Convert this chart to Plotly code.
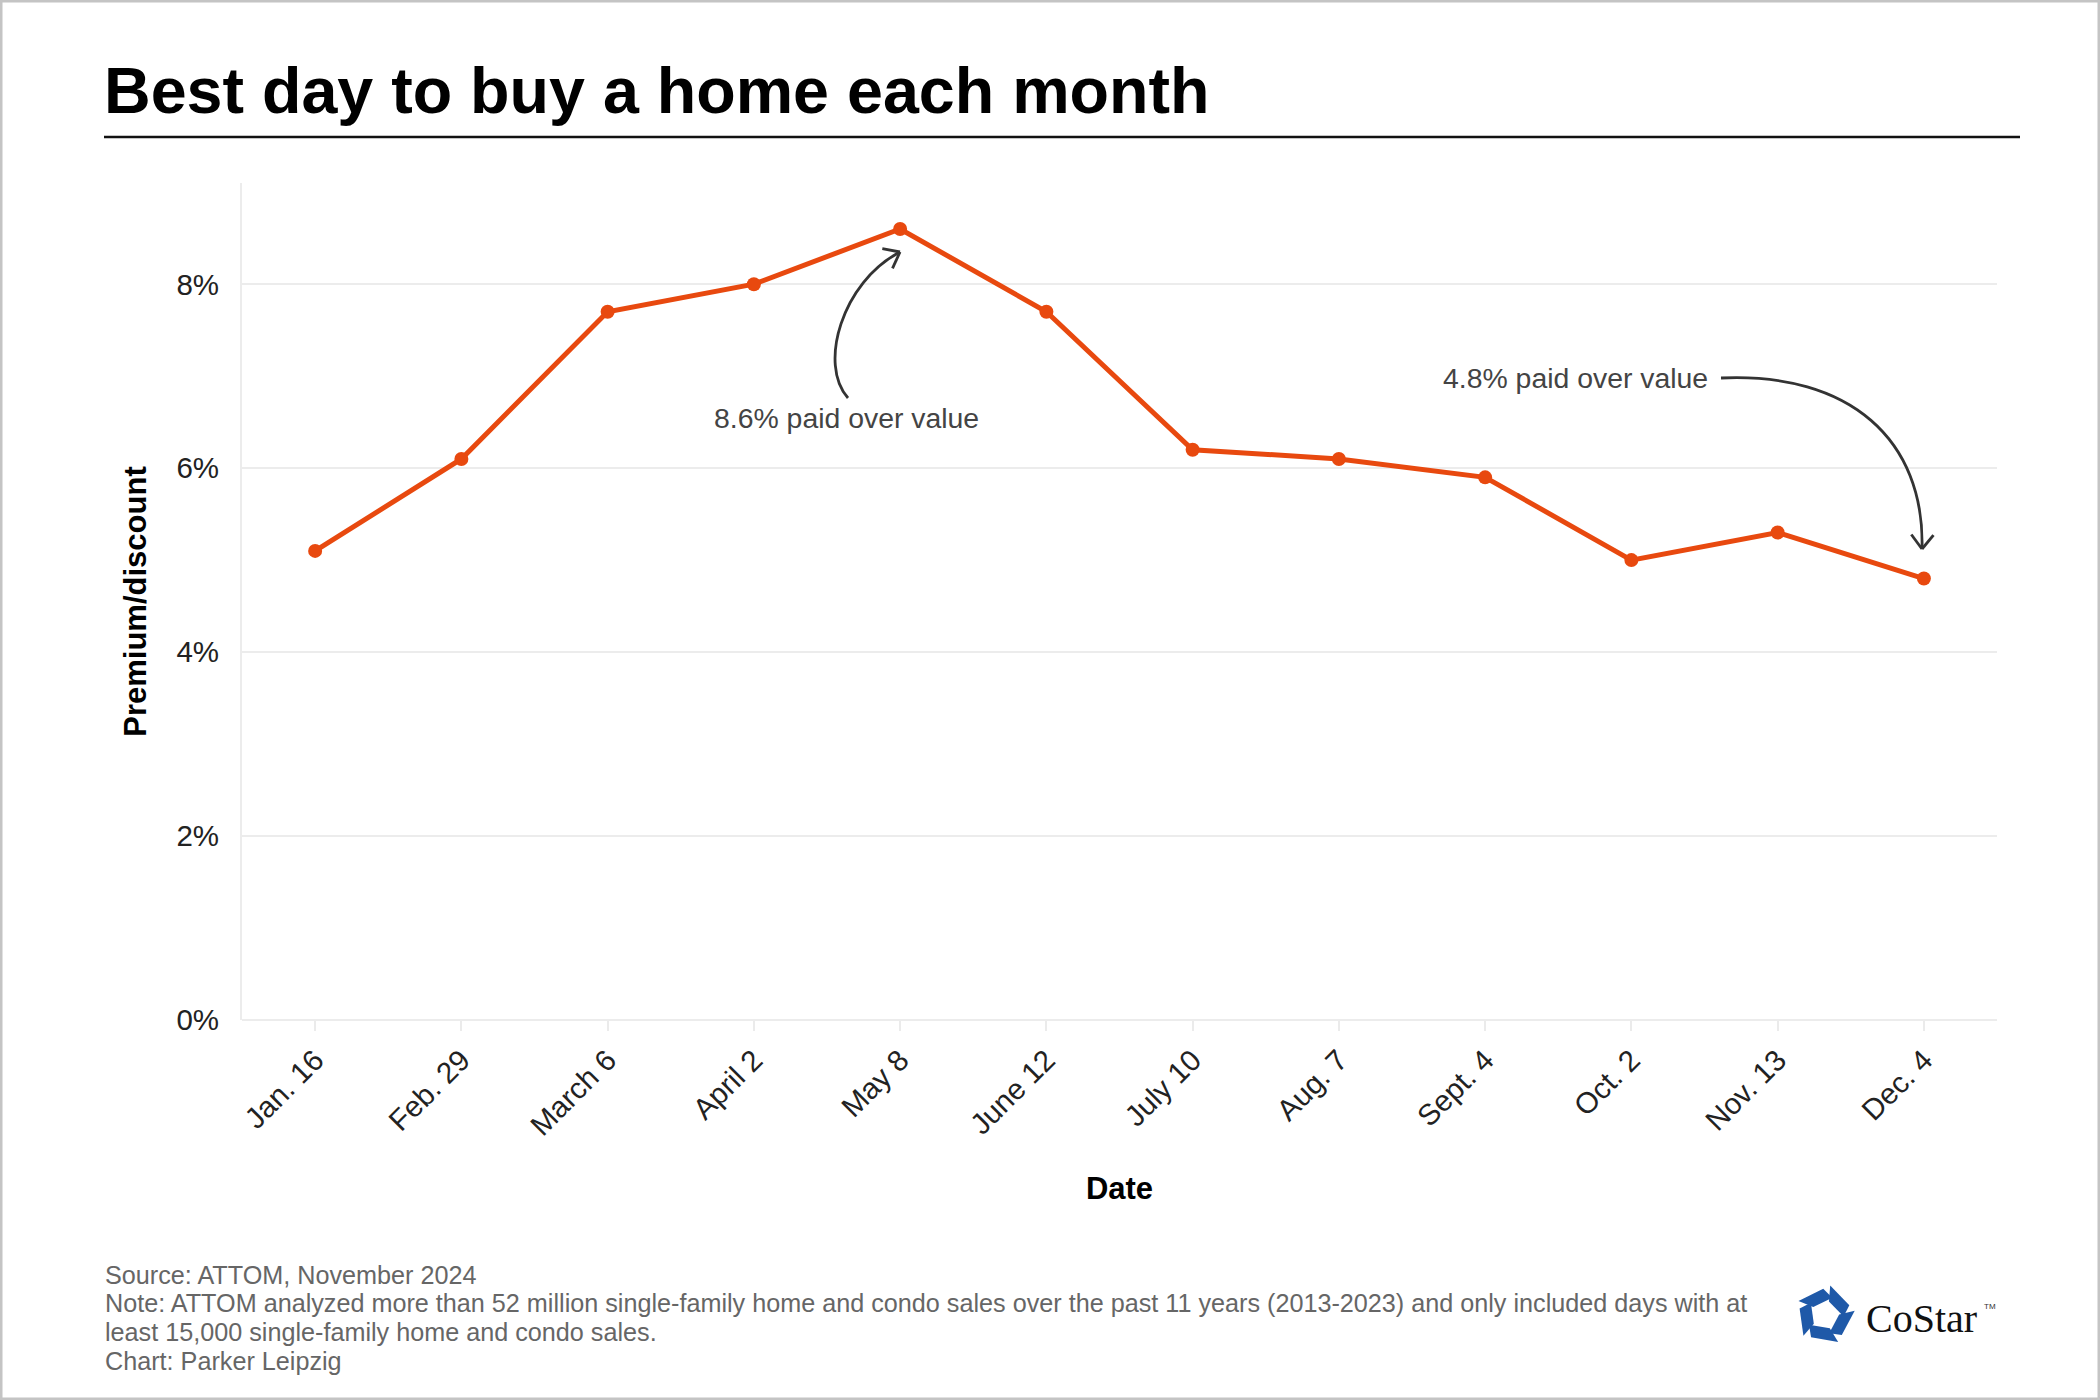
import math
import plotly.graph_objects as go

# data
dates = ["Jan. 16", "Feb. 29", "March 6", "April 2", "May 8", "June 12",
         "July 10", "Aug. 7", "Sept. 4", "Oct. 2", "Nov. 13", "Dec. 4"]
premium = [5.1, 6.1, 7.7, 8.0, 8.6, 7.7, 6.2, 6.1, 5.9, 5.0, 5.3, 4.8]
y_ticks = [0, 2, 4, 6, 8]
y_tick_labels = ["0%", "2%", "4%", "6%", "8%"]

title_text = "Best day to buy a home each month"
footer_lines = [
    "Source: ATTOM, November 2024",
    "Note: ATTOM analyzed more than 52 million single-family home and condo sales over the past 11 years (2013-2023) and only included days with at",
    "least 15,000 single-family home and condo sales.",
    "Chart: Parker Leipzig",
]
peak_note = "8.6% paid over value"
dec_note = "4.8% paid over value"

FONT = "Liberation Sans, Arial, sans-serif"
ORANGE = "#e8490f"
W, H = 2100, 1400
ML, MR, MT, MB = 242, 103, 183, 380
PW, PH = W - ML - MR, H - MT - MB


# pixel -> paper helpers (paper is the plot area)
def px(x):
    return (x - ML) / PW


def py(y):
    return (H - MB - y) / PH


def curved_arrow(p0, p1, p2, p3, color="#333333", width=2.8, head=18):
    shapes = []
    path = "M {},{} C {},{} {},{} {},{}".format(
        px(p0[0]), py(p0[1]), px(p1[0]), py(p1[1]),
        px(p2[0]), py(p2[1]), px(p3[0]), py(p3[1]))
    shapes.append(dict(type="path", path=path, xref="paper", yref="paper",
                       line=dict(color=color, width=width)))
    ang = math.atan2(p3[1] - p2[1], p3[0] - p2[0])
    for s in (-1, 1):
        a = ang + math.pi + s * math.radians(38)
        wx, wy = p3[0] + head * math.cos(a), p3[1] + head * math.sin(a)
        shapes.append(dict(type="line", xref="paper", yref="paper",
                           x0=px(p3[0]), y0=py(p3[1]), x1=px(wx), y1=py(wy),
                           line=dict(color=color, width=width)))
    return shapes


fig = go.Figure()
fig.add_trace(go.Scatter(
    x=dates, y=premium, mode="lines+markers",
    line=dict(color=ORANGE, width=5),
    marker=dict(color=ORANGE, size=14),
    hoverinfo="skip", showlegend=False))

shapes = []
# outer frame
shapes.append(dict(type="rect", xref="paper", yref="paper",
                   x0=px(1), y0=py(1), x1=px(W - 1), y1=py(H - 1),
                   line=dict(color="#c4c4c4", width=3)))
# title rule
shapes.append(dict(type="line", xref="paper", yref="paper",
                   x0=px(104), y0=py(137), x1=px(2020), y1=py(137),
                   line=dict(color="#111111", width=2.5)))
shapes += curved_arrow((848, 398), (818, 365), (842, 282), (900, 252))
shapes += curved_arrow((1721, 378), (1850, 372), (1925, 440), (1922, 549))

# logo mark: five blue bars around a pentagon
cx, cy, R, t = 1825, 1315, 30, 12
verts = [(cx + R * math.cos(math.radians(-90 + 72 * k + 10)),
          cy + R * math.sin(math.radians(-90 + 72 * k + 10))) for k in range(5)]
for k in range(5):
    a = verts[k]
    b = verts[(k + 1) % 5]
    m = (a[0] + 0.78 * (b[0] - a[0]), a[1] + 0.78 * (b[1] - a[1]))
    ex, ey = b[0] - a[0], b[1] - a[1]
    n = math.hypot(ex, ey)
    nx, ny = -ey / n, ex / n
    if (cx - a[0]) * nx + (cy - a[1]) * ny < 0:
        nx, ny = -nx, -ny
    a2 = (a[0] + 0.30 * ex + t * nx, a[1] + 0.30 * ey + t * ny)
    m2 = (m[0] + 0.12 * ex + t * nx, m[1] + 0.12 * ey + t * ny)
    pts = [a, m, m2, a2]
    path = "M " + " L ".join("{},{}".format(px(p[0]), py(p[1])) for p in pts) + " Z"
    shapes.append(dict(type="path", path=path, xref="paper", yref="paper",
                       fillcolor="#1f59a8", line=dict(width=0)))

annotations = [
    dict(text="<b>" + title_text + "</b>", x=px(102), y=py(91), xref="paper", yref="paper",
         xanchor="left", yanchor="middle", showarrow=False,
         font=dict(family=FONT, size=64.6, color="#000000")),
    dict(text=peak_note, x=px(846), y=py(418), xref="paper", yref="paper",
         xanchor="center", yanchor="middle", showarrow=False,
         font=dict(family=FONT, size=28.4, color="#444444")),
    dict(text=dec_note, x=px(1575), y=py(378), xref="paper", yref="paper",
         xanchor="center", yanchor="middle", showarrow=False,
         font=dict(family=FONT, size=28.4, color="#444444")),
    dict(text="CoStar", x=px(1864), y=py(1318), xref="paper", yref="paper",
         xanchor="left", yanchor="middle", showarrow=False,
         font=dict(family="Liberation Serif, Times New Roman, serif", size=40, color="#111111")),
    dict(text="TM", x=px(1982), y=py(1306), xref="paper", yref="paper",
         xanchor="left", yanchor="middle", showarrow=False,
         font=dict(family=FONT, size=8, color="#333333")),
]
footer_y = [1275, 1303, 1332, 1361]
for line, yy in zip(footer_lines, footer_y):
    annotations.append(dict(text=line, x=px(103), y=py(yy), xref="paper", yref="paper",
                            xanchor="left", yanchor="middle", showarrow=False,
                            font=dict(family=FONT, size=25.2, color="#666666")))

fig.update_layout(
    width=W, height=H,
    margin=dict(l=ML, r=MR, t=MT, b=MB, pad=0),
    paper_bgcolor="white", plot_bgcolor="white",
    font=dict(family=FONT, size=29, color="#333333"),
    shapes=shapes, annotations=annotations,
    xaxis=dict(
        type="category", range=[-0.5, 11.5], showgrid=False, zeroline=False,
        showline=False, ticks="outside", ticklen=10, tickwidth=2, tickcolor="#ebebeb",
        tickangle=-45, tickfont=dict(size=29.5, color="#222222"),
        title=dict(text="<b>Date</b>", font=dict(size=31, color="#000000"), standoff=36),
    ),
    yaxis=dict(
        range=[0, 9.1], tickvals=y_ticks, ticktext=y_tick_labels,
        showgrid=True, gridcolor="#ececec", gridwidth=2,
        zeroline=True, zerolinecolor="#ececec", zerolinewidth=2,
        showline=True, linecolor="#ececec", linewidth=2,
        ticks="", tickfont=dict(size=29.5, color="#222222"), ticklabelstandoff=15,
        title=dict(text="<b>Premium/discount</b>", font=dict(size=31, color="#000000"), standoff=21),
    ),
)

fig.write_html("out.html", config={"displayModeBar": False},
               post_script="document.body.style.margin='0px';")
